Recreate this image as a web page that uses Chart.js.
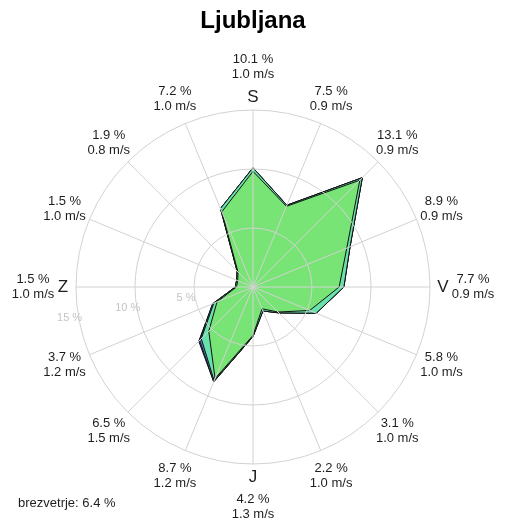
<!doctype html>
<html>
    <head>
        <meta charset="utf-8">
        <!-- page title -->
        <title>Ljubljana - roza vetrov</title>
        <!-- chartjs library -->
        <script src="https://cdn.jsdelivr.net/npm/chart.js@4.4.1/dist/chart.umd.min.js"></script>
        <!-- CSS -->
        <style>
            body { margin: 0; background: #fff; }
            #rose { display: block; }
        </style>
    </head>
    <body>
        <canvas id="rose" width="524" height="524"></canvas>

        <script>
        // directions (S = sever, V = vzhod, J = jug, Z = zahod), clockwise from top
        var directions = ['S', 'SSV', 'SV', 'VSV', 'V', 'VJV', 'JV', 'JJV', 'J', 'JJZ', 'JZ', 'ZJZ', 'Z', 'ZSZ', 'SZ', 'SSZ'];
        // share per direction (%) and mean speed (m/s), printed round the rose
        var share = [10.1, 7.5, 13.1, 8.9, 7.7, 5.8, 3.1, 2.2, 4.2, 8.7, 6.5, 3.7, 1.5, 1.5, 1.9, 7.2];
        var speed = [1.0, 0.9, 0.9, 0.9, 0.9, 1.0, 1.0, 1.0, 1.3, 1.2, 1.5, 1.2, 1.0, 1.0, 0.8, 1.0];
        // speed classes (%), weakest first
        var class1 = [9.8, 7.4, 12.8, 8.6, 7.3, 5.2, 3.0, 2.0, 4.1, 8.4, 5.3, 3.3, 1.4, 1.4, 1.8, 6.9];
        var class2 = [0.3, 0.1, 0.3, 0.3, 0.4, 0.6, 0.1, 0.2, 0.1, 0.2, 0.9, 0.3, 0.1, 0.1, 0.1, 0.3];
        var class3 = [0, 0, 0, 0, 0, 0, 0, 0, 0, 0.1, 0.2, 0.1, 0, 0, 0, 0];
        var class4 = [0, 0, 0, 0, 0, 0, 0, 0, 0, 0, 0.1, 0, 0, 0, 0, 0];
        var classColors = ['#79e476', '#68e2ad', '#5a80dc', '#3550b4'];
        // calm share (%) and ring values (%)
        var calm = 6.4;
        var rings = [5, 10, 15];

        var fontFamily = '"Liberation Sans", Arial, sans-serif';

        // the rose is stacked: every class is drawn out to the running sum
        var classes = [class1, class2, class3, class4];
        var running = new Array(directions.length).fill(0);
        var datasets = classes.map(function(c, k) {
            running = running.map(function(v, i) { return Math.round((v + c[i]) * 10) / 10; });
            return {
                label: 'razred ' + (k + 1),
                data: running.slice(),
                fill: 'origin',
                backgroundColor: classColors[k],
                borderColor: '#111',
                borderWidth: 1,
                pointRadius: 0,
                tension: 0
            };
        });

        // labels round the rose, ring values and calm
        var roseText = {
            id: 'roseText',
            afterDraw: function(chart) {
                var ctx = chart.ctx;
                var r = chart.scales.r;
                ctx.save();
                ctx.textAlign = 'center';
                ctx.textBaseline = 'middle';
                directions.forEach(function(d, i) {
                    var cardinal = d.length === 1;
                    var p = r.getPointPosition(i, r.drawingArea + (cardinal ? 43 : 27));
                    ctx.font = '13px ' + fontFamily;
                    ctx.fillStyle = '#1e1e1e';
                    ctx.fillText(share[i].toFixed(1) + ' %', p.x, p.y - 7.5);
                    ctx.fillText(speed[i].toFixed(1) + ' m/s', p.x, p.y + 7.5);
                    if (cardinal) {
                        var q = r.getPointPosition(i, r.drawingArea + 13);
                        ctx.font = '17px ' + fontFamily;
                        ctx.fillText(d, q.x, q.y);
                    }
                });

                // ring values a bit below the west axis
                ctx.font = '11px ' + fontFamily;
                ctx.fillStyle = '#c4c4c4';
                var a = (260.5 - 90) * Math.PI / 180;
                rings.forEach(function(v) {
                    var dist = r.getDistanceFromCenterForValue(v) + 9;
                    ctx.fillText(v + ' %', r.xCenter + Math.cos(a) * dist, r.yCenter + Math.sin(a) * dist);
                });

                ctx.textAlign = 'left';
                ctx.font = '13px ' + fontFamily;
                ctx.fillStyle = '#1e1e1e';
                ctx.fillText('brezvetrje: ' + calm.toFixed(1) + ' %', 18, 503);
                ctx.restore();
            }
        };

        var rose = new Chart(document.getElementById('rose'), {
            type: 'radar',
            data: {
                labels: directions,
                datasets: datasets
            },
            options: {
                responsive: false,
                animation: false,
                layout: {
                    padding: { left: 76, right: 94, top: 0, bottom: 60 }
                },
                plugins: {
                    legend: { display: false },
                    tooltip: { enabled: false },
                    title: {
                        display: true,
                        text: 'Ljubljana',
                        color: '#000',
                        font: { size: 24, weight: 'bold', family: fontFamily },
                        padding: { top: 7, bottom: 74.2 }
                    }
                },
                scales: {
                    r: {
                        min: 0,
                        max: rings[rings.length - 1],
                        ticks: { stepSize: 5, display: false },
                        // grid goes over the rose, as in the original
                        grid: { circular: true, color: '#d2d2d2', lineWidth: 1, z: 1 },
                        angleLines: { color: '#d2d2d2', lineWidth: 1 },
                        pointLabels: { display: false }
                    }
                }
            },
            plugins: [roseText]
        });
        </script>
    </body>
</html>
